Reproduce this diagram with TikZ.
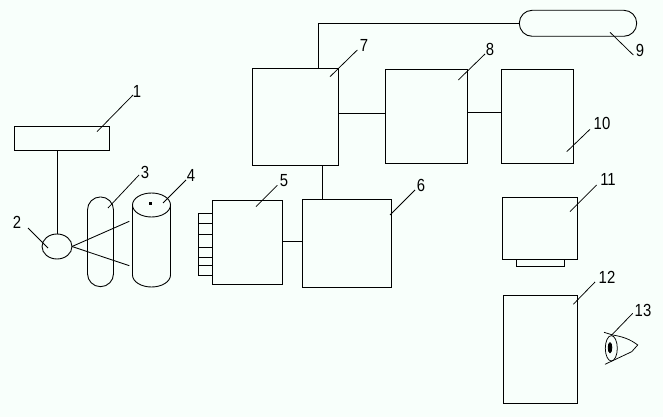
\documentclass[tikz,border=0pt]{standalone}
\usepackage{fontspec}
\setmainfont{Liberation Sans}
\definecolor{paper}{HTML}{F8FFFB}
\tikzset{
  box/.style={draw=black,line width=1pt,inner sep=0pt,outer sep=0pt,minimum width=#1},
  pill/.style={draw=black,line width=0.9pt,inner sep=0pt,outer sep=0pt,rounded corners=12.9pt},
  oval/.style={ellipse,draw=black,line width=0.9pt,inner sep=0pt,outer sep=0pt},
  wire/.style={line width=1pt,black},
  leader/.style={line width=0.75pt,black},
  num/.style={inner sep=0pt,outer sep=0pt,xscale=0.85,font=\fontsize{17.5}{17.5}\selectfont}
}
\usetikzlibrary{shapes.geometric}
\begin{document}
\begin{tikzpicture}[x=1pt,y=-1pt]
\path[use as bounding box,fill=paper] (0,0) rectangle (663,417);
% boxes
\node[box=95.6pt,minimum height=24.4pt] (b1) at (62,138.5) {};
\node[box=70.4pt,minimum height=84pt] (b5) at (247.5,242.3) {};
\node[box=89pt,minimum height=88pt] (b6) at (346.5,243) {};
\node[box=86.4pt,minimum height=97pt] (b7) at (295.5,116.8) {};
\node[box=82.4pt,minimum height=94pt] (b8) at (426.5,116.3) {};
\node[box=72pt,minimum height=94pt] (b10) at (537.3,116.3) {};
\node[box=75.4pt,minimum height=62pt] (b11) at (540,228.3) {};
\node[box=48.4pt,minimum height=7.4pt] (b11s) at (540.5,263) {};
\node[box=74.4pt,minimum height=108pt] (b12) at (540.5,349.3) {};
% round shapes
\node[oval,minimum width=30pt,minimum height=25pt] (e2) at (57,246.5) {};
\node[pill,minimum width=26pt,minimum height=89.7pt] (p3) at (100.5,241.8) {};
\node[pill,minimum width=117.4pt,minimum height=26pt] (p9) at (578,23.3) {};
% cylinder 4
\node[oval,minimum width=38pt,minimum height=24pt] (c4) at (151.5,205) {};
\draw[line width=0.9pt] (c4.west) -- (132.5,275) arc[start angle=180,end angle=0,x radius=19,y radius=12] -- (c4.east);
\node[fill=black,minimum size=2.6pt,inner sep=0pt] (d4) at (150.5,203.5) {};
\coordinate (r1) at (129.3,221.3);
\coordinate (r2) at (129.3,265.7);
\draw[line width=0.85pt] (e2.east) -- (r1);
\draw[line width=0.85pt] (e2.east) -- (r2);
% connector comb on 5
\coordinate (f) at (198.3,0);
\draw[line width=0.9pt] (f |- 0,213.3) -- (f |- 0,275.3) -- (212.3,275.3);
\foreach \yy in {213.3,223.3,234.3,247.3,257.3,265.7} \draw[line width=0.9pt] (f |- 0,\yy) -- (b5.west |- 0,\yy);
% wires
\draw[wire] (e2.north) -- (e2.north |- b1.south);
\draw[wire] (b5.east |- 0,241.3) -- (b6.west |- 0,241.3);
\draw[wire] (322.3,0 |- b7.south) -- (322.3,0 |- b6.north);
\draw[wire] (318.3,0 |- b7.north) -- (318.3,0 |- p9.west) -- (p9.west);
\draw[wire] (b7.east |- 0,113.3) -- (b8.west |- 0,113.3);
\draw[wire] (b8.east |- 0,112.3) -- (b10.west |- 0,112.3);
% eye
\node[oval,line width=0.75pt,minimum width=12pt,minimum height=25.4pt] (eye) at (611.3,348.3) {};
\node[oval,fill=black,minimum width=3.6pt,minimum height=10pt] (pupil) at (610,347.7) {};
\coordinate (lidA) at (604,332.3);
\coordinate (lidC) at (637.7,345);
\coordinate (lidB) at (605,364.3);
\draw[line width=0.75pt] (lidA) -- (612.7,335) .. controls (622,336.5) and (630,339) .. (lidC) -- (631.7,351.7) -- (lidB);
% labels
\node[num] (n1) at (137,91) {1};
\node[num] (n2) at (17,222) {2};
\node[num] (n3) at (145,172) {3};
\node[num] (n4) at (191,175) {4};
\node[num] (n5) at (284,181) {5};
\node[num] (n6) at (421,185) {6};
\node[num] (n7) at (364,45) {7};
\node[num] (n8) at (490,49) {8};
\node[num] (n9) at (640,50) {9};
\node[num] (n10) at (602,123) {10};
\node[num] (n11) at (608,179) {11};
\node[num] (n12) at (607,277) {12};
\node[num] (n13) at (643,310) {13};
% leaders
\coordinate (t1) at (97,131.7);  \coordinate (h1) at (133,95);
\coordinate (t2) at (48,248);    \coordinate (h2) at (28,228);
\coordinate (t3) at (108,208);   \coordinate (h3) at (139,175);
\coordinate (t4) at (163,203);   \coordinate (h4) at (186,180);
\coordinate (t5) at (256,206.7); \coordinate (h5) at (277.3,185.3);
\coordinate (t6) at (390,215);   \coordinate (h6) at (415,190);
\coordinate (t7) at (330,76.7);  \coordinate (h7) at (357.3,50);
\coordinate (t8) at (458.3,80);  \coordinate (h8) at (485,54);
\coordinate (t9) at (610,32.3);  \coordinate (h9) at (633.3,55);
\coordinate (t10) at (566.7,151.7); \coordinate (h10) at (590,129.3);
\coordinate (t11) at (570,211.7);   \coordinate (h11) at (596.7,185);
\coordinate (t12) at (573.3,304.3); \coordinate (h12) at (595,282);
\coordinate (t13) at (611.7,335);   \coordinate (h13) at (632.7,313.3);
\foreach \i in {1,...,13} \draw[leader] (t\i) -- (h\i);
\end{tikzpicture}
\end{document}
